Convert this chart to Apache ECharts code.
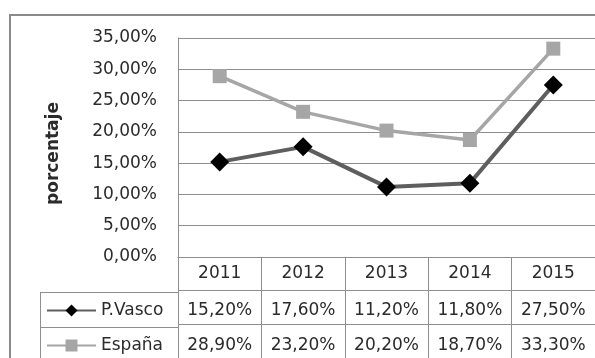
<!DOCTYPE html>
<html>
<head>
<meta charset="utf-8">
<script src="https://cdn.jsdelivr.net/npm/echarts@6/dist/echarts.min.js"></script>
<style>
  html, body { margin: 0; padding: 0; background: #fff; }
  #chart { width: 595px; height: 358px; }
</style>
</head>
<body>
<div id="chart"></div>
<script>
// Paro juvenil: País Vasco frente a España, 2011-2015
const years = ['2011', '2012', '2013', '2014', '2015'];
const pVasco = [15.2, 17.6, 11.2, 11.8, 27.5];
const espana = [28.9, 23.2, 20.2, 18.7, 33.3];
const seriesNames = ['P.Vasco', 'España'];
const yTicks = { min: 0, max: 35, step: 5 };

const FONT = 'DejaVu Sans';
const TEXT = '#2b2b2b';
const GRID = '#8e8e8e';

const pct = v => v.toFixed(2).replace('.', ',') + '%';

const chart = echarts.init(document.getElementById('chart'), null, { renderer: 'canvas' });

// Plot area and data table share the same column geometry
const PLOT = { left: 178, top: 38, width: 421, height: 219 };
const ROW = 35;
const TABLE = { left: PLOT.left, top: PLOT.top + PLOT.height, width: PLOT.width, height: ROW * 3 };

const tableRowAxis = (data, gridOffset) => ({
  type: 'category',
  gridIndex: 0,
  position: 'bottom',
  offset: gridOffset,
  data: data,
  axisLine: { show: false },
  axisTick: { show: false },
  splitLine: { show: false },
  axisLabel: { margin: 8, fontFamily: FONT, fontSize: 17, color: TEXT, interval: 0 }
});

// one legend per table row, each sitting in the row's first cell
const rowLegend = (name, row) => ({
  orient: 'horizontal',
  left: 46,
  top: TABLE.top + ROW * row + 10,
  padding: 0,
  itemWidth: 49,
  itemHeight: 15,
  textStyle: { fontFamily: FONT, fontSize: 17, color: TEXT },
  data: [name]
});

chart.setOption({
  animation: false,
  backgroundColor: '#ffffff',
  grid: [
    { left: PLOT.left, top: PLOT.top, width: PLOT.width, height: PLOT.height, containLabel: false },
    { left: TABLE.left, top: TABLE.top, width: TABLE.width, height: TABLE.height, containLabel: false }
  ],
  legend: [rowLegend(seriesNames[0], 1), rowLegend(seriesNames[1], 2)],
  xAxis: [
    {
      type: 'category',
      gridIndex: 0,
      data: years,
      boundaryGap: true,
      axisLine: { show: true, lineStyle: { color: GRID, width: 1 } },
      axisTick: { show: false },
      splitLine: { show: false },
      axisLabel: { margin: 8, fontFamily: FONT, fontSize: 17, color: TEXT, interval: 0 }
    },
    tableRowAxis(pVasco.map(pct), ROW + 2),
    tableRowAxis(espana.map(pct), ROW * 2 + 2),
    {
      type: 'category',
      gridIndex: 1,
      data: years,
      boundaryGap: true,
      axisLine: { show: false },
      axisTick: { show: false },
      axisLabel: { show: false },
      splitLine: { show: true, interval: 0, lineStyle: { color: GRID, width: 1 } }
    }
  ],
  yAxis: [
    {
      type: 'value',
      gridIndex: 0,
      min: yTicks.min,
      max: yTicks.max,
      interval: yTicks.step,
      name: 'porcentaje',
      nameLocation: 'middle',
      nameRotate: 90,
      nameGap: 116,
      nameTextStyle: { fontFamily: FONT, fontSize: 17, fontWeight: 'bold', color: TEXT, padding: [0, 12, 0, 0] },
      axisLine: { show: true, lineStyle: { color: GRID, width: 1 } },
      axisTick: { show: false },
      splitLine: { show: true, lineStyle: { color: GRID, width: 1 } },
      axisLabel: { margin: 21, fontFamily: FONT, fontSize: 17, color: TEXT, formatter: v => pct(v) }
    },
    {
      type: 'value',
      gridIndex: 1,
      min: 0,
      max: 3,
      interval: 1,
      inverse: true,
      axisLine: { show: false },
      axisTick: { show: false },
      axisLabel: { show: false },
      splitLine: { show: true, lineStyle: { color: GRID, width: 1 } }
    }
  ],
  series: [
    {
      name: seriesNames[0],
      type: 'line',
      xAxisIndex: 0,
      yAxisIndex: 0,
      data: pVasco,
      symbol: 'diamond',
      symbolSize: 19,
      z: 3,
      lineStyle: { color: '#5e5e5e', width: 4 },
      itemStyle: { color: '#000000', borderWidth: 0 }
    },
    {
      name: seriesNames[1],
      type: 'line',
      xAxisIndex: 0,
      yAxisIndex: 0,
      data: espana,
      symbol: 'rect',
      symbolSize: 14,
      z: 2,
      lineStyle: { color: '#a6a6a6', width: 3.5 },
      itemStyle: { color: '#a6a6a6', borderWidth: 0 }
    }
  ],
  graphic: [
    // outer chart frame
    {
      type: 'rect',
      shape: { x: 10, y: 15, width: 620, height: 380 },
      style: { fill: 'none', stroke: '#8a8a8a', lineWidth: 2 },
      silent: true
    },
    // legend column of the data table
    {
      type: 'line',
      shape: { x1: 40.5, y1: TABLE.top + ROW, x2: 40.5, y2: TABLE.top + ROW * 3 },
      style: { stroke: GRID, lineWidth: 1 }
    },
    {
      type: 'line',
      shape: { x1: 40, y1: TABLE.top + ROW + 0.5, x2: TABLE.left, y2: TABLE.top + ROW + 0.5 },
      style: { stroke: GRID, lineWidth: 1 }
    },
    {
      type: 'line',
      shape: { x1: 40, y1: TABLE.top + ROW * 2 + 0.5, x2: TABLE.left, y2: TABLE.top + ROW * 2 + 0.5 },
      style: { stroke: GRID, lineWidth: 1 }
    }
  ]
});
</script>
</body>
</html>
